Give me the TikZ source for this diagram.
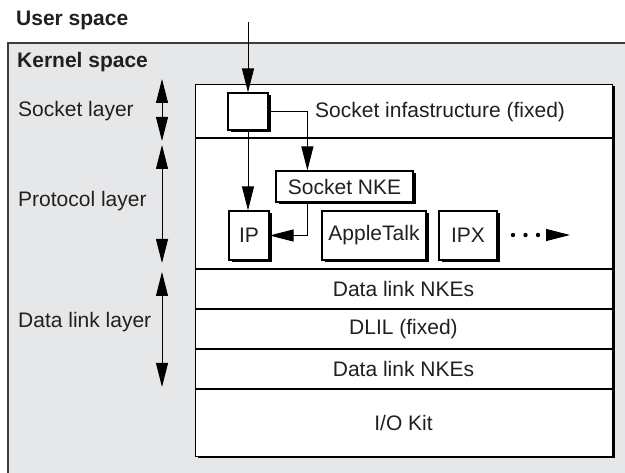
\documentclass[tikz,border=0pt]{standalone}
\usepackage{fontspec}
\setmainfont{Liberation Sans}
\usetikzlibrary{arrows.meta,shadows,calc}
\definecolor{kgray}{HTML}{E6E7E9}
\definecolor{kline}{HTML}{3C3C3C}
\definecolor{ink}{HTML}{231F20}
\begin{document}
\begin{tikzpicture}[x=1pt,y=-1pt,
  every node/.style={font=\fontsize{21}{25}\selectfont, text=ink},
  tip/.style={-{Triangle[length=24pt,width=12pt]}},
  dtip/.style={{Triangle[length=24pt,width=12pt]}-{Triangle[length=24pt,width=12pt]}, line width=1pt},
  conn/.style={tip, line width=1pt, draw=black},
  sbox/.style={draw=black, fill=white, line width=1.2pt, inner sep=0pt,
    drop shadow={shadow xshift=2.5pt, shadow yshift=-2.5pt, opacity=1, fill=black}},
  lbl/.style={anchor=base west, inner sep=0pt},
  rowtxt/.style={inner sep=0pt}
  ]
\useasboundingbox (0,0) rectangle (625,473);
\clip (0,0) rectangle (625,473);
% kernel space box
\draw[fill=kgray, draw=kline, line width=1.5pt] (8,43) rectangle (640,490);
\node[lbl, font=\fontsize{21}{25}\selectfont\bfseries] (user) at (16,26) {User space};
\node[lbl, font=\fontsize{21}{25}\selectfont\bfseries] (kernel) at (17,68) {Kernel space};
% inner white box with shadow
\fill[black] (197.5,86.5) rectangle (614.5,458.5);
\node[draw=black, fill=white, line width=1.3pt, minimum width=417pt, minimum height=372pt, inner sep=0pt, anchor=north west] (inner) at (195,84) {};
\foreach \yy in {138,269,309,349,389} \draw[line width=1.3pt] (195,\yy) -- (612,\yy);
% row texts
\node[lbl] (sockinf) at (315,118) {Socket infastructure (fixed)};
\node[rowtxt] (dl1) at (403.5,289) {Data link NKEs};
\node[rowtxt] (dlil) at (403.5,329) {DLIL (fixed)};
\node[rowtxt] (dl2) at (403.5,369) {Data link NKEs};
\node[rowtxt] (iokit) at (403.5,422.5) {I/O Kit};
% left labels
\node[lbl] (sl) at (18,117) {Socket layer};
\node[lbl] (pl) at (18,207) {Protocol layer};
\node[lbl] (dll) at (18,328) {Data link layer};
\coordinate (a1) at (162,79); \coordinate (a2) at (162,141);
\coordinate (b1) at (162,145); \coordinate (b2) at (162,263);
\coordinate (c1) at (162,272); \coordinate (c2) at (162,387);
\draw[dtip] (a1) -- (a2);
\draw[dtip] (b1) -- (b2);
\draw[dtip] (c1) -- (c2);
% small boxes
\node[sbox, minimum width=40pt, minimum height=37pt] (sq) at (248,111.5) {};
\node[sbox, minimum width=137pt, minimum height=31pt] (nke) at (344.5,186.5) {Socket NKE};
\node[sbox, minimum width=40pt, minimum height=49pt] (ip) at (249,235.5) {IP};
\node[sbox, minimum width=104pt, minimum height=49pt] (at) at (374,235.5) {AppleTalk};
\node[sbox, minimum width=58pt, minimum height=49pt] (ipx) at (468,235.5) {IPX};
% connectors
\coordinate (top) at (248,22);
\draw[conn] (top) -- (sq.north);
\draw[conn] (sq.east) -| ([xshift=32pt]nke.north west);
\draw[conn] (sq.south) -- (sq.south |- ip.north);
\draw[conn] ([xshift=32pt]nke.south west) |- (ip.east);
% dots and arrow
\foreach \xx in {513,525.5,538} \fill[black] (\xx,235) circle (2.2pt);
\coordinate (ds) at (546,235); \coordinate (de) at (570,235);
\draw[conn] (ds) -- (de);
\end{tikzpicture}
\end{document}
